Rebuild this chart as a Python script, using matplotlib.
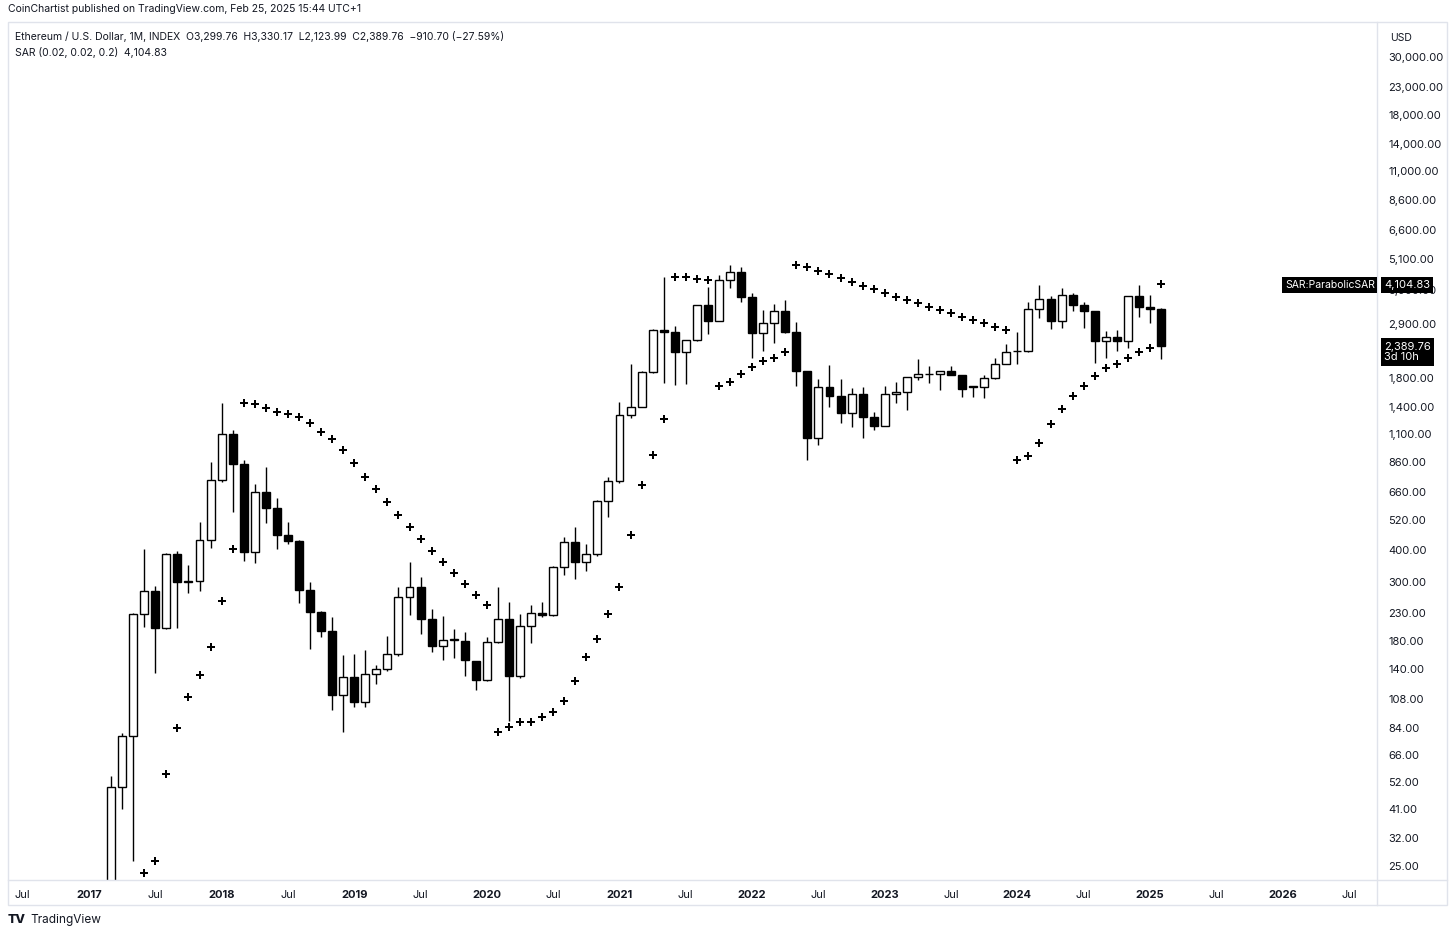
# ETH / USD monthly candles with parabolic SAR (log scale), TradingView look
import numpy as np
import matplotlib.pyplot as plt
from matplotlib.patches import Rectangle
from matplotlib.lines import Line2D

plt.rcParams['font.family'] = ['Inter', 'DejaVu Sans']

# months, counted from Jan 2017 = 0
months = list(range(0, 98))

opens = [8.2, 10.7, 15.6, 50, 78, 227, 278, 201, 385, 301, 303, 435,
         736, 1100, 847, 392, 662, 575, 454, 432, 281, 231, 196, 112,
         131, 105, 134, 140, 160, 264, 288, 218, 172, 181, 180, 150,
         128, 178, 218, 132, 205, 230, 225, 343, 428, 359, 385, 612,
         730, 1300, 1400, 1897, 2742, 2700, 2259, 2510, 3412, 2965, 4246, 4560,
         3656, 2670, 2920, 3240, 2690, 1914, 1064, 1664, 1537, 1325, 1563, 1279,
         1181, 1563, 1590, 1815, 1862, 1865, 1914, 1850, 1675, 1660, 1800, 2033,
         2280, 2285, 3296, 3597, 2965, 3725, 3412, 3230, 2490, 2580, 2490, 3690,
         3340, 3299.76]
highs = [11.4, 16.6, 55, 80, 230, 402, 290, 387, 395, 349, 508, 861,
         1445, 1140, 877, 711, 824, 628, 508, 435, 301, 233, 221, 159,
         160, 166, 146, 187, 288, 359, 315, 238, 223, 199, 194, 151,
         186, 288, 252, 227, 246, 252, 345, 447, 488, 420, 620, 756,
         1460, 2033, 1920, 2760, 4365, 2838, 2520, 3420, 3993, 4425, 4842, 4770,
         3800, 3265, 3430, 3565, 2938, 1920, 1783, 2018, 1783, 1648, 1664, 1335,
         1680, 1738, 1815, 2125, 2000, 1914, 2000, 1850, 1680, 1850, 2143, 2420,
         2690, 3500, 4060, 3700, 3960, 3800, 3500, 3240, 2720, 2740, 3690, 4060,
         3725, 3330.17]
lows = [8.0, 10.4, 15.3, 41, 26, 203, 135, 199, 201, 273, 278, 405,
        725, 556, 361, 355, 505, 402, 420, 250, 167, 186, 98, 81,
        101, 101, 123, 138, 157, 225, 191, 163, 152, 154, 132, 117,
        126, 176, 89, 130, 176, 222, 224, 320, 309, 331, 378, 532,
        720, 1270, 1400, 1880, 1722, 1690, 1700, 2480, 2650, 2960, 3960, 3500,
        2143, 2280, 2445, 2680, 1679, 877, 1000, 1400, 1213, 1172, 1064, 1140,
        1180, 1445, 1358, 1762, 1722, 1618, 1850, 1525, 1525, 1514, 1780, 2030,
        2033, 2270, 3043, 2765, 2790, 3230, 2790, 2052, 2143, 2280, 2340, 3070,
        2920, 2123.99]
closes = [10.7, 15.6, 50, 78, 227, 278, 201, 385, 301, 303, 435, 736,
          1100, 847, 392, 662, 575, 454, 432, 281, 231, 196, 112, 131,
          105, 134, 140, 160, 264, 288, 218, 172, 181, 182, 152, 128,
          178, 218, 132, 205, 230, 225, 343, 428, 359, 385, 612, 730,
          1300, 1400, 1897, 2742, 2700, 2259, 2510, 3412, 2965, 4246, 4560, 3656,
          2670, 2920, 3240, 2690, 1914, 1064, 1664, 1537, 1325, 1563, 1279, 1181,
          1563, 1590, 1815, 1862, 1865, 1914, 1850, 1633, 1660, 1800, 2033, 2259,
          2285, 3296, 3597, 2965, 3725, 3412, 3230, 2490, 2580, 2490, 3690, 3340,
          3300, 2389.76]

# parabolic SAR (0.02, 0.02, 0.2), starts Jun 2017
sar_months = list(range(5, 98))
sar = [23.5, 26, 56, 84, 110, 133, 170,
       255, 402, 1445, 1432, 1383, 1335, 1310, 1279, 1213, 1122, 1054, 957,
       855, 755, 680, 607, 542, 488, 439, 395, 359, 326, 296, 268,
       246, 81, 84.5, 88, 88.5, 92, 96, 106, 126, 156, 183, 227,
       288, 454, 705, 916, 1256, 4365, 4365, 4290, 4250, 1679, 1738, 1862,
       1982, 2089, 2143, 2259, 4842, 4770, 4600, 4480, 4325, 4170, 4030, 3925,
       3800, 3656, 3565, 3475, 3350, 3265, 3180, 3070, 2990, 2920, 2813, 2740,
       877, 908, 1019, 1202, 1371, 1537, 1679, 1832, 1963, 2033, 2143, 2259,
       2340, 4104.83]

price_ticks = [25, 32, 41, 52, 66, 84, 108, 140, 180, 230, 300, 400, 520, 660,
               860, 1100, 1400, 1800, 2900, 3900, 5100, 6600, 8600, 11000,
               14000, 18000, 23000, 30000]
time_ticks = list(range(-6, 115, 6))
time_labels = ['Jul', '2017', 'Jul', '2018', 'Jul', '2019', 'Jul', '2020', 'Jul',
               '2021', 'Jul', '2022', 'Jul', '2023', 'Jul', '2024', 'Jul', '2025',
               'Jul', '2026', 'Jul']

W, H = 1456, 936
fx = lambda x: x / W
fy = lambda y: 1 - y / H
TXT = '#131722'
GRID = '#e0e3eb'

fig = plt.figure(figsize=(W / 100, H / 100), dpi=100)
ax = fig.add_axes([fx(8), fy(880), fx(1377 - 8), (880 - 22) / H])
ax.set_yscale('log')

# candles
m = np.array(months, dtype=float)
o = np.array(opens); h = np.array(highs); l = np.array(lows); c = np.array(closes)
up = c >= o
ax.vlines(m, l, h, color='black', linewidth=1.0, zorder=2)
bottom = np.minimum(o, c)
height = np.maximum(np.abs(c - o), bottom * 0.004)
ax.bar(m[up], height[up], bottom=bottom[up], width=0.72, color='white',
       edgecolor='black', linewidth=1.0, zorder=3)
ax.bar(m[~up], height[~up], bottom=bottom[~up], width=0.72, color='black',
       edgecolor='black', linewidth=1.0, zorder=3)

# SAR crosses
ax.plot(sar_months, sar, linestyle='none', marker='P', markersize=5.5,
        color='black', markeredgewidth=0, zorder=4)

ax.set_xlim((8 - 89) / 11.052, (1377 - 89) / 11.052)
ax.set_ylim(10 ** (4.4771 - 823 / 262.7), 10 ** (4.4771 + 35 / 262.7))

for s in ax.spines.values():
    s.set_visible(False)

ax.yaxis.tick_right()
ax.set_yticks(price_ticks)
ax.set_yticklabels(['{:,.2f}'.format(v) for v in price_ticks])
ax.yaxis.set_minor_locator(plt.NullLocator())
ax.tick_params(axis='y', length=0, pad=8, labelsize=8, labelcolor=TXT)

ax.set_xticks(time_ticks)
ax.set_xticklabels(time_labels)
ax.tick_params(axis='x', length=0, pad=7, labelsize=8, labelcolor=TXT)
for t in ax.get_xticklabels():
    if t.get_text() != 'Jul':
        t.set_fontweight('bold')

# frame lines
fig.add_artist(Rectangle((fx(8), fy(905)), fx(1447 - 8), (905 - 22) / H,
                         transform=fig.transFigure, fill=False,
                         edgecolor=GRID, linewidth=1))
fig.add_artist(Line2D([fx(1377), fx(1377)], [fy(22), fy(905)],
                      transform=fig.transFigure, color=GRID, linewidth=1))
fig.add_artist(Line2D([fx(8), fx(1447)], [fy(880), fy(880)],
                      transform=fig.transFigure, color=GRID, linewidth=1))

# header and legend text
fig.text(fx(8), fy(9), 'CoinChartist published on TradingView.com, Feb 25, 2025 15:44 UTC+1',
         fontsize=7.5, color=TXT, va='center')
fig.text(fx(15), fy(37), 'Ethereum / U.S. Dollar, 1M, INDEX  O3,299.76  H3,330.17  '
         'L2,123.99  C2,389.76  \u2212910.70 (\u221227.59%)',
         fontsize=7.5, color=TXT, va='center')
fig.text(fx(15), fy(52), 'SAR (0.02, 0.02, 0.2)  4,104.83',
         fontsize=7.5, color=TXT, va='center')
fig.text(fx(1390), fy(38), 'USD', fontsize=7.5, color=TXT, va='center')

# price labels on the right scale
fig.text(fx(1285), fy(285), 'SAR:ParabolicSAR', fontsize=7.5, color='white', va='center',
         bbox=dict(boxstyle='square,pad=0.25', facecolor='black', edgecolor='none'))
fig.text(fx(1384), fy(285), '4,104.83', fontsize=8, color='white', va='center',
         bbox=dict(boxstyle='square,pad=0.25', facecolor='black', edgecolor='none'))
fig.text(fx(1384), fy(352), '2,389.76\n3d 10h', fontsize=8, color='white', va='center',
         linespacing=1.05,
         bbox=dict(boxstyle='square,pad=0.3', facecolor='black', edgecolor='none'))

# footer logo
fig.text(fx(8), fy(920), 'TV', fontsize=9, fontweight='heavy', color=TXT, va='center')
fig.text(fx(30), fy(920), 'TradingView', fontsize=8.5, color=TXT, va='center')

plt.savefig('out.png', dpi=100, facecolor='white')
